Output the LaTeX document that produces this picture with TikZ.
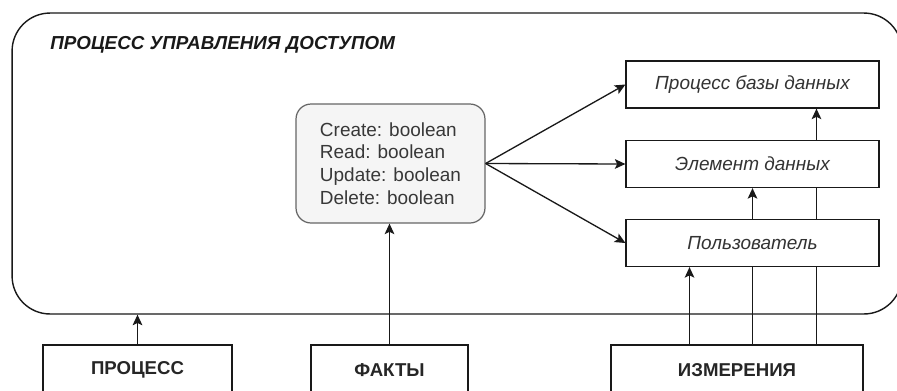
\documentclass[tikz,border=0pt]{standalone}
\usepackage{fontspec}
\setmainfont{Liberation Sans}
\usetikzlibrary{arrows.meta,backgrounds}

\tikzset{
	box/.style={draw=black!90, fill=white, line width=0.7pt, minimum width=5.06cm, minimum height=0.94cm, font=\fontsize{10.8}{12}\selectfont\itshape, text=black!80},
	dimbox/.style={draw=black!90, fill=white, line width=0.7pt, minimum height=1cm, font=\fontsize{10.6}{12}\selectfont\bfseries, text=black!85},
	arr/.style={-{Stealth[length=6pt,width=5.5pt,inset=1.3pt]}, line width=0.75pt, black!90},
}

\begin{document}
\begin{tikzpicture}[x=0.02cm, y=-0.02cm]
	\clip (0,0) rectangle (897,390);

	% access control process frame
	\node[draw=black!90, rounded corners=0.76cm, line width=0.8pt, minimum width=17.8cm, minimum height=6.02cm] (ctrl) at (457,163.5) {};
	\node[anchor=west, inner sep=0pt, font=\fontsize{10.7}{12}\selectfont\bfseries\itshape, text=black!90] (title) at (50,45) {ПРОЦЕСС УПРАВЛЕНИЯ ДОСТУПОМ};

	% facts
	\node[draw=black!60, fill=black!4, rounded corners=0.3cm, line width=0.7pt, minimum width=3.78cm, minimum height=2.38cm, align=left, font=\fontsize{10.8}{13}\selectfont, text=black!78] (facts) at (390.5,163.5) {Create: boolean\\Read: boolean\\Update: boolean\\Delete: boolean};

	% dimensions
	\node[box] (dbproc) at (752.5,84.5) {Процесс базы данных};
	\node[box] (elem) at (752.5,164) {Элемент данных};
	\node[box] (user) at (752.5,243) {Пользователь};

	% bottom row
	\node[dimbox, minimum width=3.78cm] (proc) at (137.5,370) {ПРОЦЕСС};
	\node[dimbox, minimum width=3.14cm] (fct) at (389.5,370) {ФАКТЫ};
	\node[dimbox, minimum width=5.04cm] (dims) at (737,370) {ИЗМЕРЕНИЯ};

	\draw[arr] (facts.east) -- (dbproc.west);
	\draw[arr] (facts.east) -- (elem.west);
	\draw[arr] (facts.east) -- (user.west);
	\draw[arr] ([xshift=-1.26cm]user.south |- dims.north) -- ([xshift=-1.26cm]user.south);
	\draw[arr] (proc.north) -- (proc.north |- ctrl.south);
	\draw[arr] (fct.north) -- (fct.north |- facts.south);

	% lines running behind the boxes
	\begin{pgfonlayer}{background}
		\draw[arr] (dims.north -| elem.south) -- (elem.south);
		\draw[arr] ([xshift=1.28cm]dims.north -| elem.south) -- ([xshift=1.28cm]dbproc.south);
	\end{pgfonlayer}
\end{tikzpicture}
\end{document}
